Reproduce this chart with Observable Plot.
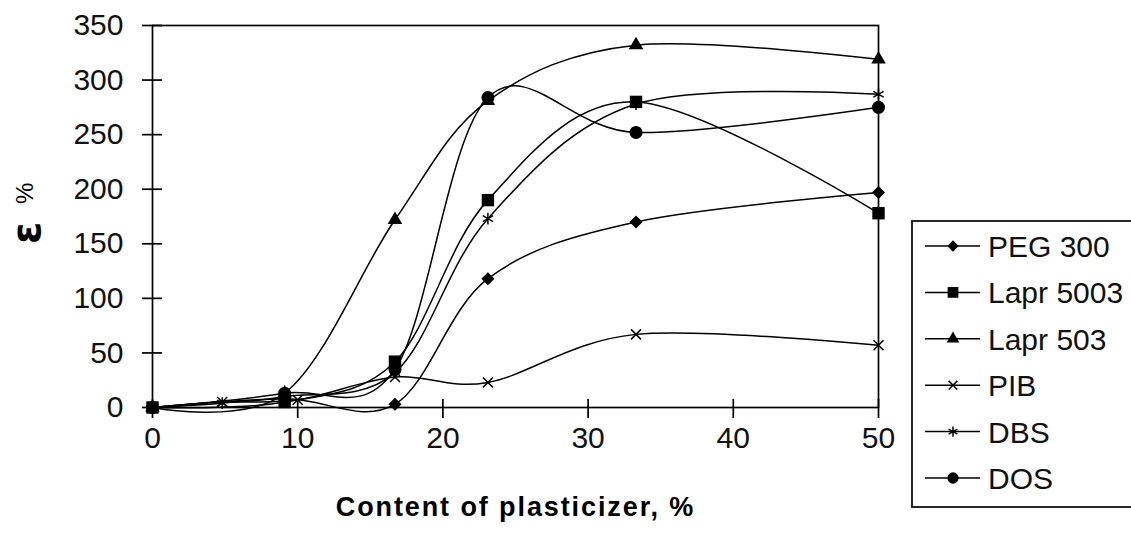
<!DOCTYPE html>
<html><head><meta charset="utf-8">
<script src="https://cdn.jsdelivr.net/npm/d3@7"></script>
<script src="https://cdn.jsdelivr.net/npm/@observablehq/plot@0.6"></script>
<style>
body{margin:0;background:#fff;}
#chart{width:1131px;height:535px;overflow:hidden;}
</style></head><body><div id="chart"></div>
<script>
// ---- data ----
const seriesNames = ["PEG 300", "Lapr 5003", "Lapr 503", "PIB", "DBS", "DOS"];
const pegX   = [0, 9.1, 16.7, 23.1, 33.3, 50];
const pegY   = [0, 8, 3, 118, 170, 197];
const lapr5003X = [0, 9.1, 16.7, 23.1, 33.3, 50];
const lapr5003Y = [0, 5, 42, 190, 280, 178];
const lapr503X  = [0, 9.1, 16.7, 23.1, 33.3, 50];
const lapr503Y  = [0, 13, 172, 281, 332, 319];
const pibX   = [0, 4.8, 10, 16.7, 23.1, 33.3, 50];
const pibY   = [0, 5, 7, 28, 23, 67, 57];
const dbsX   = [0, 4.8, 9.1, 16.7, 23.1, 33.3, 50];
const dbsY   = [0, 4, 10, 32, 173, 278, 287];
const dosX   = [0, 9.1, 16.7, 23.1, 33.3, 50];
const dosY   = [0, 13, 35, 284, 252, 275];
const xTicks = [0, 10, 20, 30, 40, 50];
const yTicks = [0, 50, 100, 150, 200, 250, 300, 350];
const xLabel = "Content of plasticizer, %";

const xsAll = [pegX, lapr5003X, lapr503X, pibX, dbsX, dosX];
const ysAll = [pegY, lapr5003Y, lapr503Y, pibY, dbsY, dosY];
const rows = [];
seriesNames.forEach((s, i) => xsAll[i].forEach((x, j) => rows.push({series: s, x, y: ysAll[i][j]})));

// marker styles per series
const markerStyle = {
  "PEG 300":   {symbol: "diamond2", r: 5.9, fill: "black", stroke: "none"},
  "Lapr 5003": {symbol: "square",   r: 7.0, fill: "black", stroke: "none"},
  "Lapr 503":  {symbol: "triangle", r: 5.4, fill: "black", stroke: "none"},
  "PIB":       {symbol: "times",    r: 4.6, fill: "none",  stroke: "black", strokeWidth: 1.5},
  "DBS":       {symbol: "asterisk", r: 5.6, fill: "none",  stroke: "black", strokeWidth: 1.5},
  "DOS":       {symbol: "circle",   r: 6.5, fill: "black", stroke: "none"}
};

const dotMarks = seriesNames.map(s => Plot.dot(rows.filter(d => d.series === s), {x: "x", y: "y", ...markerStyle[s]}));

const svg = Plot.plot({
  width: 1131, height: 535,
  marginLeft: 152, marginRight: 253, marginTop: 25, marginBottom: 128,
  style: {fontFamily: "'Liberation Sans', Arial, sans-serif", color: "black", background: "white"},
  x: {domain: [0, 50]},
  y: {domain: [0, 350]},
  marks: [
    Plot.line(rows, {x: "x", y: "y", z: "series", curve: "cardinal", tension: 0, stroke: "black", strokeWidth: 1.5}),
    Plot.frame({stroke: "black", strokeWidth: 1.7}),
    Plot.ruleX(xTicks, {x: d => d, y1: 0, y2: 0, insetTop: 11, insetBottom: 8, stroke: "black", strokeWidth: 1.7}),
    Plot.ruleY(yTicks, {y: d => d, x1: 0, x2: 0, insetLeft: -10, insetRight: -10, stroke: "black", strokeWidth: 1.7}),
    Plot.axisX(xTicks, {tickSize: 0, tickPadding: 19, fontSize: 30, label: null, fill: "#111"}),
    Plot.axisY(yTicks, {tickSize: 0, tickPadding: 29, fontSize: 30, label: null, fill: "#111"}),
    Plot.text([xLabel], {frameAnchor: "bottom", dy: 108, fontWeight: "bold", fontSize: 27, fill: "black"}),
    ...dotMarks
  ]
});

const root = d3.select(svg);
// widen the x-axis title a little, as in the reference
root.selectAll("text").filter(function() { return this.textContent === xLabel; })
  .style("letter-spacing", "1.9px");

// y axis label (rotated)
root.append("text")
  .attr("transform", "translate(40,244) rotate(-90)")
  .attr("text-anchor", "start")
  .attr("font-family", "'DejaVu Sans', sans-serif")
  .attr("font-weight", "bold")
  .attr("font-size", 40)
  .text("ε");
root.append("text")
  .attr("transform", "translate(33,204) rotate(-90)")
  .attr("text-anchor", "start")
  .attr("font-family", "'Liberation Sans', Arial, sans-serif")
  .attr("font-size", 24)
  .text("%");

// legend
const lg = root.append("g");
lg.append("rect").attr("x", 912).attr("y", 221).attr("width", 260).attr("height", 286)
  .attr("fill", "white").attr("stroke", "black").attr("stroke-width", 1.7);
const symMap = {diamond2: d3.symbolDiamond2, square: d3.symbolSquare, triangle: d3.symbolTriangle,
  times: d3.symbolTimes, asterisk: d3.symbolAsterisk, circle: d3.symbolCircle};
seriesNames.forEach((s, i) => {
  const cy = 246 + i * 46.4;
  const m = markerStyle[s];
  lg.append("line").attr("x1", 925).attr("x2", 980).attr("y1", cy).attr("y2", cy)
    .attr("stroke", "black").attr("stroke-width", 1.5);
  lg.append("path").attr("transform", `translate(953,${cy})`)
    .attr("d", d3.symbol(symMap[m.symbol], Math.PI * m.r * m.r * 0.75)())
    .attr("fill", m.fill).attr("stroke", m.stroke).attr("stroke-width", m.strokeWidth || 0);
  lg.append("text").attr("x", 988).attr("y", cy + 11)
    .attr("text-anchor", "start")
    .attr("font-family", "'Liberation Sans', Arial, sans-serif").attr("font-size", 30)
    .attr("fill", "#111").text(s);
});

document.getElementById("chart").appendChild(svg);
</script>
</body></html>
